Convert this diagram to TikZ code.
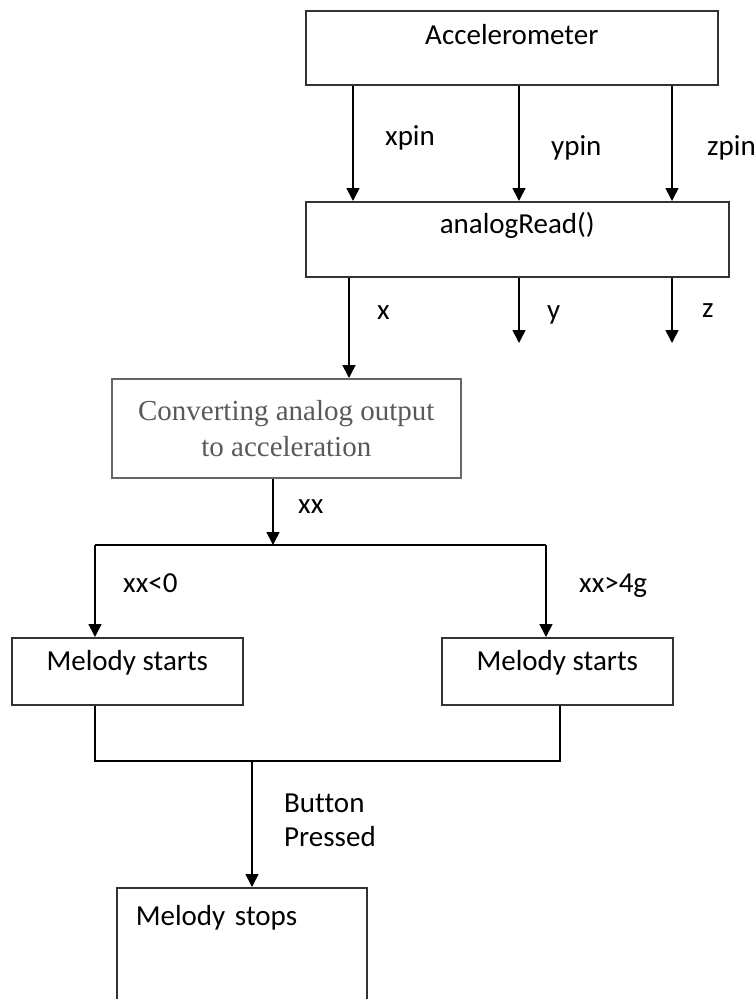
\documentclass[tikz,border=0pt]{standalone}
\usepackage{fontspec}
\setmainfont{Carlito}[Ligatures=CommonOff]
\newfontfamily\convfont{Liberation Serif}
\usetikzlibrary{arrows.meta}

\tikzset{
  blockbox/.style={draw=black!80, line width=1.6pt, inner xsep=0pt, inner ysep=0pt,
    anchor=north west, font=\fontsize{29}{34}\selectfont},
  arr/.style={line width=1.6pt, -{Triangle[width=13pt,length=13pt]}},
  flow/.style={line width=1.6pt},
  lbl/.style={anchor=base west, inner sep=0pt, font=\fontsize{29}{34}\selectfont},
}

\begin{document}
\begin{tikzpicture}[x=1pt,y=-1pt]
	\clip (0,0) rectangle (755,999);
	
	% boxes
	\node[blockbox, minimum width=412pt, text height=34pt, text depth=40pt] (acc) at (305,10) {Accelerometer};
	\node[blockbox, minimum width=423pt, text height=32pt, text depth=43pt] (ana) at (305,201) {analogRead()};
	\node[draw=black!60, line width=1.6pt, anchor=north west, minimum width=349pt, minimum height=99pt,
		align=center, text=black!65, font=\convfont\fontsize{29}{36}\selectfont] (conv) at (111,378)
		{Converting analog output\\to acceleration};
	\node[blockbox, minimum width=231pt, text height=33pt, text depth=34pt] (ms1) at (11,637) {Melody starts};
	\node[blockbox, minimum width=231pt, text height=33pt, text depth=34pt] (ms2) at (441,637) {Melody starts};
	\node[blockbox, inner xsep=19pt, text width=212pt, align=left, text height=38pt, text depth=120pt] (stop) at (116,887) {Melody stops};
	
	% pins
	\foreach \dx in {48,214,367} {
		\draw[arr] ([xshift=\dx pt]acc.south west) -- ([xshift=\dx pt]ana.north west);
	}
	
	\coordinate (yend) at (519,343);
	\coordinate (zend) at (672,343);
	\draw[arr] ([xshift=44pt]ana.south west) -- ([xshift=238pt]conv.north west);
	\draw[arr] ([xshift=214pt]ana.south west) -- (yend);
	\draw[arr] ([xshift=367pt]ana.south west) -- (zend);
	
	% split
	\coordinate (split) at (273,545);
	\coordinate (splitL) at (95,545);
	\coordinate (splitR) at (546,545);
	\draw[arr] ([xshift=162pt]conv.south west) -- (split);
	\draw[flow] (splitL) -- (splitR);
	\draw[arr] (splitL) -- (ms1.north -| splitL);
	\draw[arr] (splitR) -- (ms2.north -| splitR);
	
	% join
	\coordinate (joinL) at (95,761);
	\coordinate (joinR) at (560,761);
	\coordinate (joinM) at (252,761);
	\draw[flow] (ms1.south -| joinL) -- (joinL) -- (joinR) -- (ms2.south -| joinR);
	\draw[arr] (joinM) -- (stop.north -| joinM);
	
	% labels
	\node[lbl] (xpin) at (385,145) {xpin};
	\node[lbl] (ypin) at (551,155) {ypin};
	\node[lbl] (zpin) at (707,155) {zpin};
	\node[lbl] (xlbl) at (377,319) {x};
	\node[lbl] (ylbl) at (547,319) {y};
	\node[lbl] (zlbl) at (702,317) {z};
	\node[lbl] (xxlbl) at (298,513) {xx};
	\node[lbl] (neglbl) at (123,592) {xx<0};
	\node[lbl] (poslbl) at (579,592) {xx>4g};
	\node[lbl] (btnlbl) at (284,812) {Button};
	\node[lbl] (prslbl) at (284,846) {Pressed};
\end{tikzpicture}
\end{document}
